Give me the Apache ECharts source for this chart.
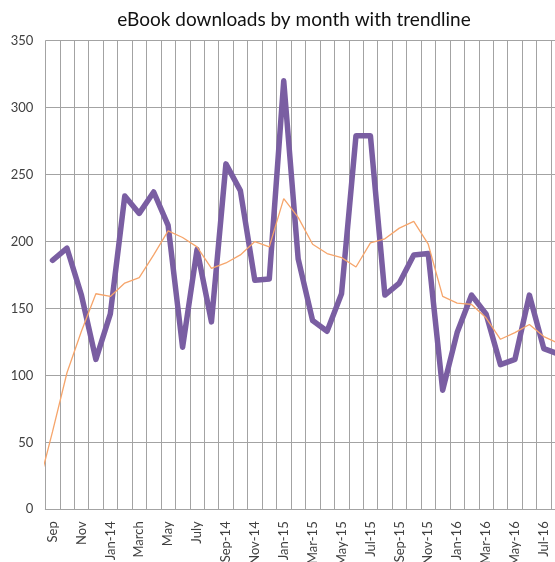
<!DOCTYPE html>
<html>
<head>
<meta charset="utf-8">
<script src="https://cdn.jsdelivr.net/npm/echarts@6/dist/echarts.min.js"></script>
<style>html,body{margin:0;padding:0;background:#fff}#c{width:555px;height:562px}</style>
</head>
<body>
<div id="c"></div>
<script>
// Categories (Sep 2013 .. Aug 2016)
const months = ["Sep","Oct","Nov","Dec","Jan-14","Feb","March","April","May","June","July","Aug",
  "Sep-14","Oct-14","Nov-14","Dec-14","Jan-15","Feb-15","Mar-15","Apr-15","May-15","Jun-15","Jul-15","Aug-15",
  "Sep-15","Oct-15","Nov-15","Dec-15","Jan-16","Feb-16","Mar-16","Apr-16","May-16","Jun-16","Jul-16","Aug-16"];
// Monthly downloads
const downloads = [186,195,160,112,146,234,221,237,212,121,194,140,
  258,238,171,172,320,187,141,133,161,279,279,160,
  169,190,191,89,132,160,146,108,112,160,120,116];
// Trendline values; it begins one month before the first category
const trendStart = -1;
const trend = [16,58,102,133,161,159,169,173,190,208,203,196,180,
  184,190,200,196,232,218,198,191,188,181,199,202,
  210,215,198,159,154,153,143,127,132,138,129,124];
// Value axis ticks
const yMin = 0, yMax = 350, yStep = 50;

const chart = echarts.init(document.getElementById('c'), null, {renderer: 'canvas'});
const gridColor = '#a3a3a3';
const textColor = '#404040';
chart.setOption({
  animation: false,
  title: {
    text: 'eBook downloads by month with trendline',
    left: 289, top: 5, textAlign: 'center',
    textStyle: {fontFamily: 'Lato', fontSize: 19, fontWeight: 'normal', color: '#111111'}
  },
  grid: {left: 45.3, right: -10.5, top: 40.7, bottom: 52.7, containLabel: false, outerBoundsMode: 'none'},
  xAxis: [
    {
      type: 'category', data: months, boundaryGap: true,
      axisLine: {show: true, lineStyle: {color: gridColor, width: 1}},
      axisTick: {show: false},
      axisLabel: {interval: 1, rotate: 90, margin: 12, fontFamily: 'Lato', fontSize: 13, color: textColor},
      splitLine: {show: true, interval: 0, lineStyle: {color: gridColor, width: 1}}
    },
    {type: 'value', show: false, min: -0.5, max: months.length - 0.5}
  ],
  yAxis: {
    type: 'value', min: yMin, max: yMax, interval: yStep,
    axisLine: {show: false},
    axisTick: {show: true, length: 5, lineStyle: {color: gridColor}},
    axisLabel: {margin: 12, fontFamily: 'Lato', fontSize: 13, color: textColor},
    splitLine: {show: true, lineStyle: {color: gridColor, width: 1}}
  },
  series: [
    {
      type: 'line', xAxisIndex: 0, data: downloads, symbol: 'none',
      lineStyle: {color: '#7A5EA2', width: 5.5, join: 'round', cap: 'round'}, z: 3
    },
    {
      type: 'line', xAxisIndex: 1, data: trend.map((v, i) => [i + trendStart, v]),
      clip: false, symbol: 'none',
      lineStyle: {color: '#F6A56B', width: 1.3}, z: 4
    }
  ]
});
</script>
</body>
</html>
